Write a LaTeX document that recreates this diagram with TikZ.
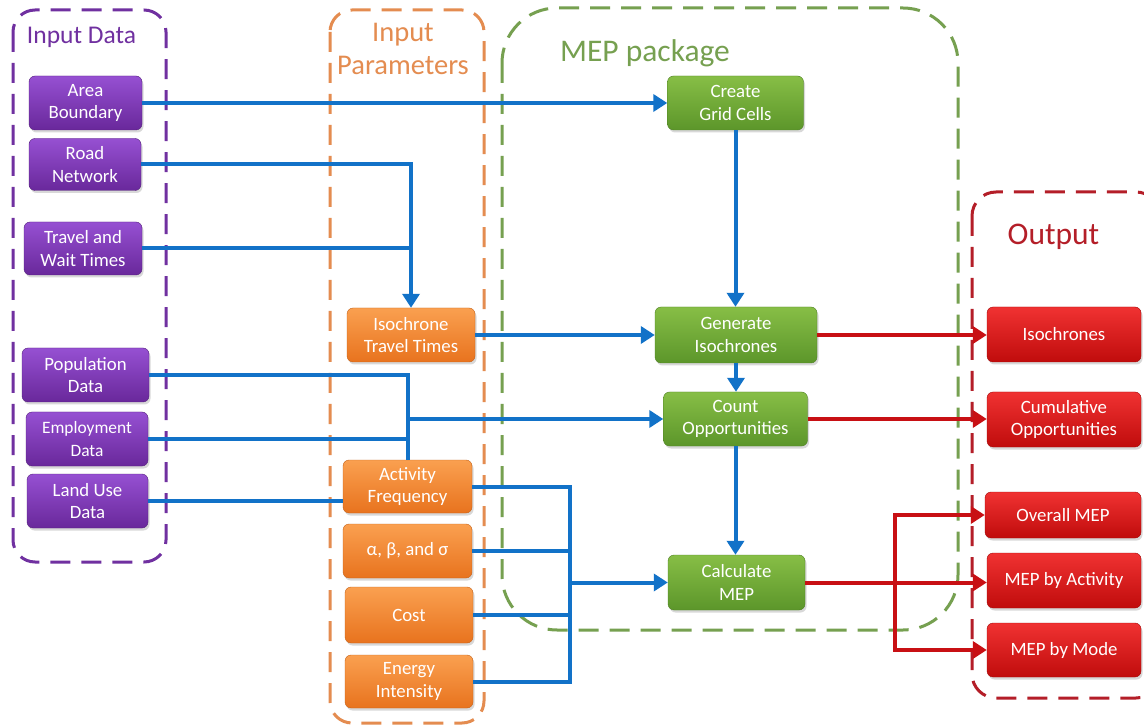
\documentclass[tikz,border=0pt]{standalone}
\usepackage{fontspec}
\setmainfont{Carlito}
\usetikzlibrary{arrows.meta,shadows}
\definecolor{purT}{RGB}{150,80,210}
\definecolor{purB}{RGB}{105,40,155}
\definecolor{orT}{RGB}{250,160,80}
\definecolor{orB}{RGB}{232,115,30}
\definecolor{grT}{RGB}{135,190,70}
\definecolor{grB}{RGB}{92,150,42}
\definecolor{rdT}{RGB}{240,50,50}
\definecolor{rdB}{RGB}{192,12,12}
\definecolor{blueC}{RGB}{18,114,200}
\definecolor{redC}{RGB}{200,16,20}
\definecolor{purG}{RGB}{112,48,160}
\definecolor{orG}{RGB}{228,140,80}
\definecolor{grG}{RGB}{118,160,80}
\definecolor{rdG}{RGB}{180,30,40}
\begin{document}
\begin{tikzpicture}[x=1pt,y=-1pt,
  box/.style={rectangle, rounded corners=6pt, inner sep=0pt, align=center,
    text=white, font=\fontsize{18.8}{22.5}\selectfont,
    drop shadow={shadow xshift=1.5pt, shadow yshift=-2.5pt, opacity=0.3}},
  pbox/.style={box, top color=purT, bottom color=purB, draw=purB!80!black, line width=0.4pt},
  obox/.style={box, top color=orT, bottom color=orB, draw=orB!85!black, line width=0.4pt},
  gbox/.style={box, top color=grT, bottom color=grB, draw=grB!85!black, line width=0.4pt},
  rbox/.style={box, top color=rdT, bottom color=rdB, draw=rdB!85!black, line width=0.4pt},
  grp/.style={line width=3pt, dash pattern=on 20pt off 11pt},
  bl/.style={draw=blueC, line width=4pt},
  ba/.style={bl, -{Triangle[length=14pt,width=17pt]}},
  rl/.style={draw=redC, line width=4pt},
  ra/.style={rl, -{Triangle[length=14pt,width=17pt]}},
  rab/.style={rl, {Triangle[length=14pt,width=17pt]}-{Triangle[length=14pt,width=17pt]}},
  ttl/.style={anchor=base, inner sep=0pt}
]
\useasboundingbox (0,0) rectangle (1144,727);
\fill[white] (0,0) rectangle (1144,727);

% groups
\draw[grp, draw=purG, rounded corners=22pt] (13,10) rectangle (166,562);
\draw[grp, draw=orG, rounded corners=22pt] (330,10) rectangle (484,723);
\draw[grp, draw=grG, rounded corners=55pt] (502,8) rectangle (958,630);
\draw[grp, draw=rdG, rounded corners=24pt] (972,192) rectangle (1160,698);

% titles
\node[ttl, text=purG, font=\fontsize{25.5}{30}\selectfont] (tid) at (81.5,44) {Input Data};
\node[ttl, text=orG, font=\fontsize{28.5}{33}\selectfont] (tip1) at (403,42) {Input};
\node[ttl, text=orG, font=\fontsize{28.5}{33}\selectfont] (tip2) at (403,75) {Parameters};
\node[ttl, text=grG, font=\fontsize{31.5}{36}\selectfont] (tmep) at (645,62) {MEP package};
\node[ttl, text=rdG, font=\fontsize{31.5}{36}\selectfont] (tout) at (1053.5,245) {Output};

% input data
\node[pbox, minimum width=113pt, minimum height=54pt] (ab) at (85.5,103) {Area\\Boundary};
\node[pbox, minimum width=112pt, minimum height=52pt] (rn) at (85,164.5) {Road\\Network};
\node[pbox, minimum width=118pt, minimum height=53pt] (tw) at (83,248.5) {Travel and\\Wait Times};
\node[pbox, minimum width=127pt, minimum height=54pt] (pd) at (85.5,375) {Population\\Data};
\node[pbox, minimum width=122pt, minimum height=54pt, font=\fontsize{17.4}{22.5}\selectfont] (ed) at (87,439) {Employment\\Data};
\node[pbox, minimum width=121pt, minimum height=54pt] (lu) at (87.5,501) {Land Use\\Data};

% input parameters
\node[obox, minimum width=128pt, minimum height=54pt] (itt) at (411,335) {Isochrone\\Travel Times};
\node[obox, minimum width=129pt, minimum height=53pt] (af) at (407.5,486.5) {Activity\\Frequency};
\node[obox, minimum width=129pt, minimum height=54pt] (abs) at (407.5,551) {α, β, and σ};
\node[obox, minimum width=128pt, minimum height=56pt] (cost) at (409,615) {Cost};
\node[obox, minimum width=128pt, minimum height=53pt] (ei) at (409,681.5) {Energy\\Intensity};

% MEP package
\node[gbox, minimum width=136pt, minimum height=54pt] (cg) at (735.5,103) {Create\\Grid Cells};
\node[gbox, minimum width=162pt, minimum height=56pt] (gi) at (736,335) {Generate\\Isochrones};
\node[gbox, minimum width=144pt, minimum height=54pt] (co) at (735.5,419) {Count\\Opportunities};
\node[gbox, minimum width=137pt, minimum height=55pt] (cm) at (736.5,582.5) {Calculate\\MEP};

% output
\node[rbox, minimum width=154pt, minimum height=55pt] (iso) at (1064,334.5) {Isochrones};
\node[rbox, minimum width=154pt, minimum height=55pt] (cum) at (1064,419.5) {Cumulative\\Opportunities};
\node[rbox, minimum width=156pt, minimum height=46pt] (om) at (1063,515) {Overall MEP};
\node[rbox, minimum width=154pt, minimum height=55pt] (mba) at (1064,580.5) {MEP by Activity};
\node[rbox, minimum width=154pt, minimum height=54pt] (mbm) at (1064,650) {MEP by Mode};

% connectors
\coordinate (bx) at (570,0);
\coordinate (rx) at (895,0);
\draw[ba] (ab.east) -- (ab.east -| cg.west);
\draw[ba] (rn.east) -| (itt.north);
\draw[bl] (tw.east) -- (tw.east -| itt.north);
\draw[ba] (itt.east) -- (itt.east -| gi.west);
\draw[ba] (cg.south) -- (cg.south |- gi.north);
\draw[ba] (gi.south) -- (gi.south |- co.north);
\draw[ba] (co.south) -- (co.south |- cm.north);
\draw[bl] (pd.east) -| (af.north);
\draw[bl] (ed.east) -- (ed.east -| af.north);
\draw[ba] (af.north |- co.west) -- (co.west);
\draw[bl] (lu.east) -- (lu.east -| af.west);
\draw[bl] (af.east) -- (af.east -| bx) -- (ei.east -| bx) -- (ei.east);
\draw[bl] (abs.east) -- (abs.east -| bx);
\draw[bl] (cost.east) -- (cost.east -| bx);
\draw[ba] (cm.west -| bx) -- (cm.west);
\draw[ra] (gi.east) -- (gi.east -| iso.west);
\draw[ra] (co.east) -- (co.east -| cum.west);
\draw[ra] (cm.east) -- (cm.east -| mba.west);
\draw[rab] (om.west) -- (om.west -| rx) -- (mbm.west -| rx) -- (mbm.west);
\end{tikzpicture}
\end{document}
